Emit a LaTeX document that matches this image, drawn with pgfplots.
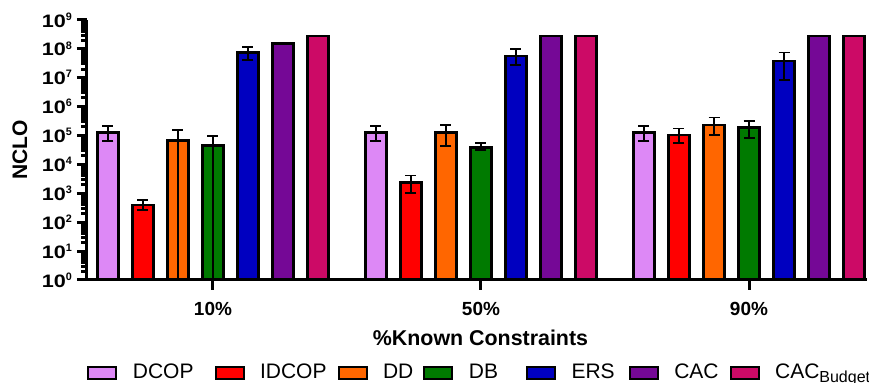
\documentclass[border=0pt]{standalone}
\usepackage{pgfplots}
\usepackage{pgfplotstable}
\pgfplotsset{compat=1.18}
\usepackage{fontspec}
\setmainfont{Liberation Sans}
\newfontfamily\widefont[FakeStretch=1.2]{Liberation Sans}
\definecolor{cDCOP}{HTML}{DD88F6}
\definecolor{cIDCOP}{HTML}{FF0000}
\definecolor{cDD}{HTML}{FF6600}
\definecolor{cDB}{HTML}{007A00}
\definecolor{cERS}{HTML}{0000C0}
\definecolor{cCAC}{HTML}{750896}
\definecolor{cCACB}{HTML}{CC0A66}
\newcommand{\tl}[1]{{\widefont\bfseries 10}\raisebox{3.4pt}{\fontsize{5.4}{6}\selectfont\bfseries #1}}
\newcommand{\gap}[1]{\rule{#1}{0pt}}

\pgfplotstableread{
x y ep em
0 1.29e5 8.5e4 6.4e4
1 1.29e5 8.5e4 6.4e4
2 1.29e5 8.5e4 6.4e4
}\tDCOP
\pgfplotstableread{
x y ep em
0 400 190 135
1 2400 1770 1350
2 1.05e5 6.9e4 4.9e4
}\tIDCOP
\pgfplotstableread{
x y ep em
0 6.6e4 9.2e4 0
1 1.29e5 1.05e5 8.5e4
2 2.34e5 1.83e5 1.27e5
}\tDD
\pgfplotstableread{
x y ep em
0 4.47e4 5.1e4 0
1 3.9e4 1.6e4 0.8e4
2 1.86e5 1.38e5 1.03e5
}\tDB
\pgfplotstableread{
x y ep em
0 7.6e7 4.1e7 3.5e7
1 5.6e7 4.2e7 2.8e7
2 3.8e7 3.8e7 2.97e7
}\tERS
\pgfplotstableread{
x y ep em
0 1.55e8 0.07e8 0.05e8
1 2.8e8 0 0
2 2.8e8 0 0
}\tCAC
\pgfplotstableread{
x y ep em
0 2.8e8 0 0
1 2.8e8 0 0
2 2.8e8 0 0
}\tCACB

\begin{document}
\begin{tikzpicture}
\path[use as bounding box] (-43.5pt,-51.5pt) rectangle (391pt,140pt);
\begin{axis}[
  at={(0,0)}, anchor=south west,
  scale only axis, width=390pt, height=130pt,
  ymode=log, ymin=1, ymax=1e9,
  xmin=-0.4701, xmax=2.4403,
  axis lines=left,
  axis line style={-, line width=1.5pt, black},
  axis on top,
  ybar, bar width=0.0784,
  xtick={0,1,2}, xticklabels={10\%,50\%,90\%},
  xticklabel style={font=\fontsize{9.5}{10}\selectfont\bfseries, yshift=-2.5pt},
  ytick={1,10,100,1000,10000,100000,1000000,10000000,100000000,1000000000},
  yticklabels={\tl{0},\tl{1},\tl{2},\tl{3},\tl{4},\tl{5},\tl{6},\tl{7},\tl{8},\tl{9}},
  yticklabel style={font=\fontsize{9}{10}\selectfont, xshift=1pt},
  minor ytick={},
  tick align=outside, major tick length=5pt,
  tick style={line width=1.5pt, black},
  xlabel={\%Known Constraints},
  xlabel style={font=\fontsize{10.7}{12}\selectfont\bfseries, at={(axis description cs:0.5045,-0.2538)}, anchor=base},
  ylabel={NCLO},
  ylabel style={font=\fontsize{10.5}{12}\selectfont\bfseries, at={(axis description cs:-0.0859,0.5)}, anchor=center, rotate=0},
  every axis plot/.append style={draw=black, line width=1.3pt},
  error bars/y dir=both, error bars/y explicit,
  error bars/error bar style={line width=0.8pt, black},
  error bars/error mark options={rotate=90, mark size=2.75pt, line width=0.8pt, black},
  legend columns=7,
  legend image code/.code={\draw[#1, line width=1pt] (0pt,-3pt) rectangle (14pt,3pt);},
  legend style={draw=none, fill=none, inner sep=0pt, at={(axis description cs:0,-0.3577)}, anchor=west,
    font=\fontsize{10.5}{12}\selectfont, column sep=0pt,
    /tikz/every odd column/.style={column sep=7.75pt},
    /tikz/every even column/.style={column sep=0pt},
    nodes={inner sep=0pt}},
]
\addplot[fill=cDCOP, bar shift=-0.3918] table[x=x,y=y,y error plus=ep,y error minus=em]{\tDCOP};
\addplot[fill=cIDCOP, bar shift=-0.2612] table[x=x,y=y,y error plus=ep,y error minus=em]{\tIDCOP};
\addplot[fill=cDD, bar shift=-0.1306] table[x=x,y=y,y error plus=ep,y error minus=em]{\tDD};
\addplot[fill=cDB, bar shift=0] table[x=x,y=y,y error plus=ep,y error minus=em]{\tDB};
\addplot[fill=cERS, bar shift=0.1306] table[x=x,y=y,y error plus=ep,y error minus=em]{\tERS};
\addplot[fill=cCAC, bar shift=0.2612] table[x=x,y=y,y error plus=ep,y error minus=em]{\tCAC};
\addplot[fill=cCACB, bar shift=0.3918] table[x=x,y=y]{\tCACB};
% lower error bars of DD and DB at 10% reach below 10^0
\addplot[ycomb, bar shift=0, draw=black, line width=0.8pt, no marks, forget plot] coordinates {(-0.1306,6.6e4) (0,4.47e4)};
\legend{DCOP\gap{10.5pt},IDCOP\gap{5.5pt},DD\gap{5pt},DB\gap{14pt},ERS\gap{7pt},CAC\gap{5.5pt},CAC\textsubscript{\fontsize{8}{9}\selectfont Budget}}
\end{axis}
\end{tikzpicture}
\end{document}
